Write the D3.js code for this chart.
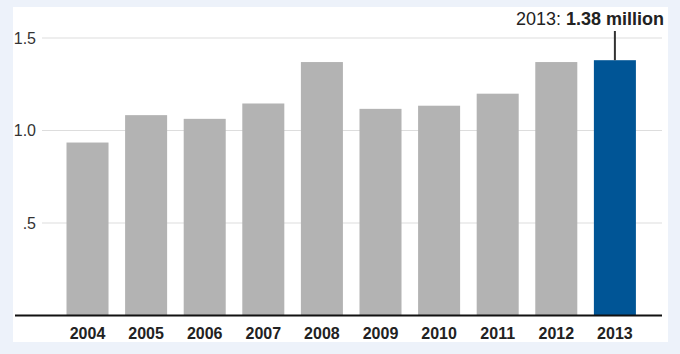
<!DOCTYPE html>
<html>
<head>
<meta charset="utf-8">
<script src="https://cdn.jsdelivr.net/npm/d3@7"></script>
<style>
  body { margin: 0; background: #edf2fa; }
  svg { display: block; font-family: "Liberation Sans", Arial, sans-serif; }
</style>
</head>
<body>
<div id="chart"></div>
<script>
const years = ["2004", "2005", "2006", "2007", "2008", "2009", "2010", "2011", "2012", "2013"];
const values = [0.935, 1.083, 1.063, 1.146, 1.37, 1.117, 1.134, 1.199, 1.37, 1.38];
const yTicks = [0.5, 1.0, 1.5];
const highlightYear = "2013";
const highlightLabel = "1.38 million";

const width = 680;
const height = 354;
const margin = { top: 38, right: 18, bottom: 39, left: 42 };

const svg = d3.select("#chart")
  .append("svg")
  .attr("width", width)
  .attr("height", height);

svg.append("rect")
  .attr("x", 13)
  .attr("y", 7)
  .attr("width", 655)
  .attr("height", 335)
  .attr("fill", "#fff");

const x = d3.scaleBand()
  .domain(years)
  .range([37.2, 665.2])
  .paddingInner(0.283)
  .paddingOuter(0.5);

const y = d3.scaleLinear()
  .domain([0, 1.5])
  .range([315.5, 38]);

// gridlines
svg.append("g")
  .selectAll("line")
  .data(yTicks)
  .join("line")
  .attr("x1", margin.left)
  .attr("x2", 662)
  .attr("y1", d => y(d))
  .attr("y2", d => y(d))
  .attr("stroke", "#dddddd")
  .attr("stroke-width", 1);

svg.append("g")
  .selectAll("text")
  .data(yTicks)
  .join("text")
  .attr("x", 36)
  .attr("y", d => y(d) + 5.5)
  .attr("text-anchor", "end")
  .attr("font-size", 16)
  .attr("fill", "#333")
  .text(d => d === 0.5 ? ".5" : d3.format(".1f")(d));

svg.append("g")
  .selectAll("rect")
  .data(years)
  .join("rect")
  .attr("x", d => x(d))
  .attr("width", x.bandwidth())
  .attr("y", (d, i) => y(values[i]))
  .attr("height", (d, i) => y(0) - y(values[i]))
  .attr("fill", d => d === highlightYear ? "#005596" : "#b3b3b3");

// baseline
svg.append("line")
  .attr("x1", 15)
  .attr("x2", 662)
  .attr("y1", y(0))
  .attr("y2", y(0))
  .attr("stroke", "#111")
  .attr("stroke-width", 2);

svg.append("g")
  .selectAll("text")
  .data(years)
  .join("text")
  .attr("x", d => x(d) + x.bandwidth() / 2)
  .attr("y", 339)
  .attr("text-anchor", "middle")
  .attr("font-size", 16)
  .attr("font-weight", "bold")
  .attr("fill", "#222")
  .text(d => d);

// annotation for the highlighted year
const hi = years.indexOf(highlightYear);
const cx = x(highlightYear) + x.bandwidth() / 2;

svg.append("line")
  .attr("x1", cx)
  .attr("x2", cx)
  .attr("y1", 31)
  .attr("y2", y(values[hi]))
  .attr("stroke", "#333")
  .attr("stroke-width", 2);

const label = svg.append("text")
  .attr("x", 664)
  .attr("y", 25)
  .attr("text-anchor", "end")
  .attr("font-size", 18)
  .attr("fill", "#222");
label.append("tspan").text(highlightYear + ": ");
label.append("tspan").attr("font-weight", "bold").text(highlightLabel);
</script>
</body>
</html>
